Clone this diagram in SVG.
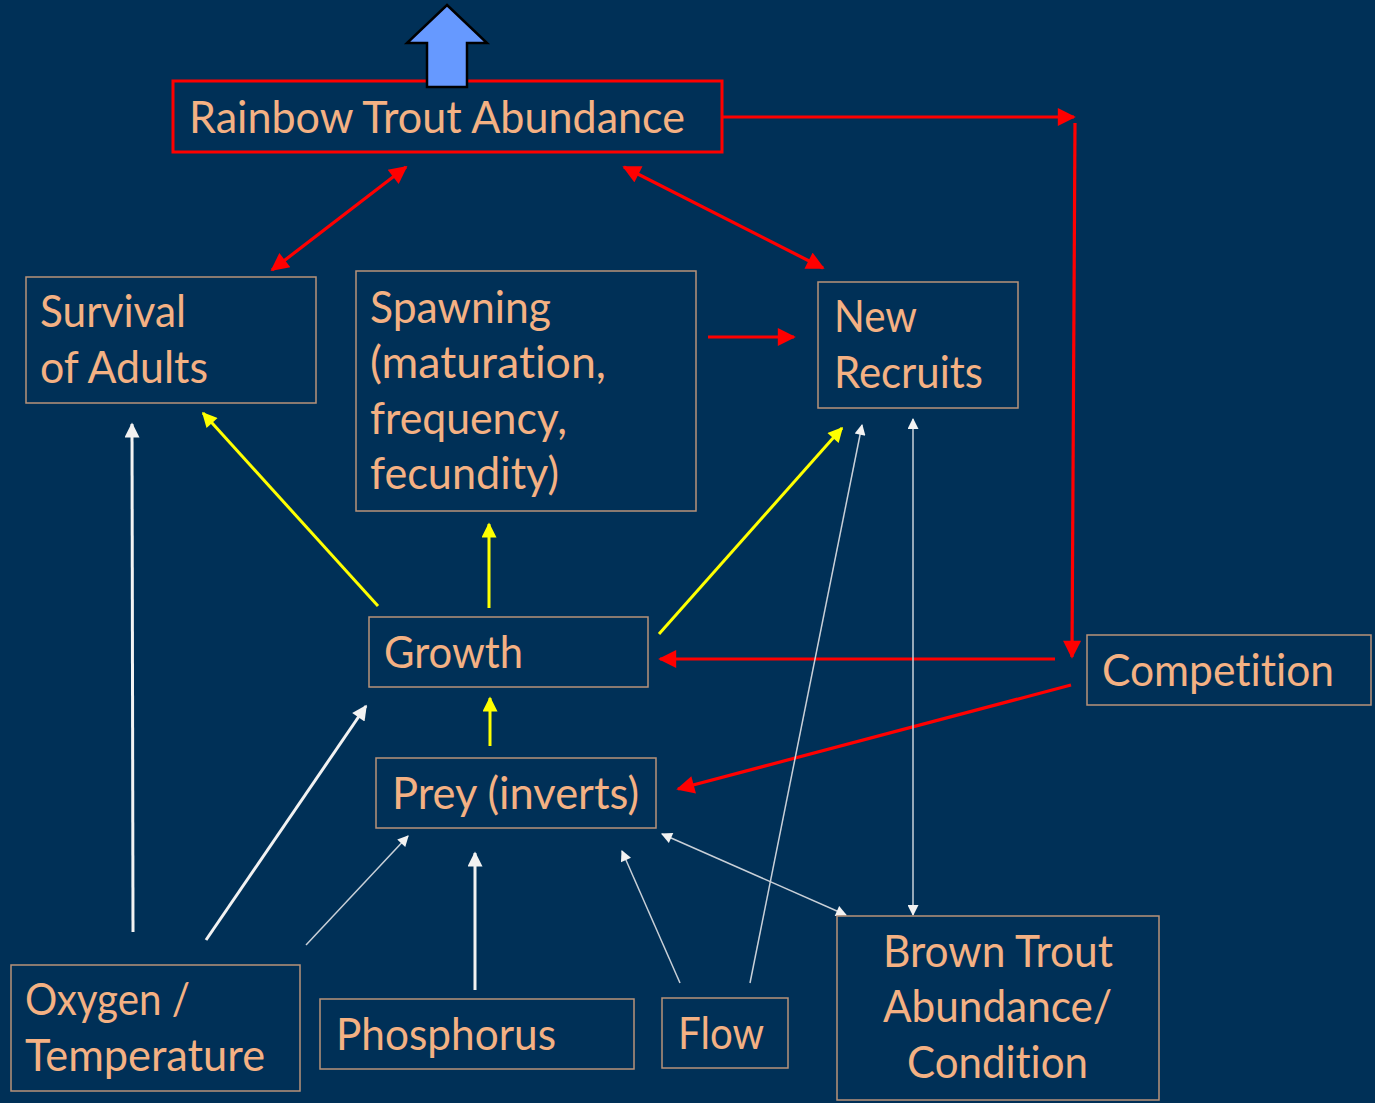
<svg xmlns="http://www.w3.org/2000/svg" width="1375" height="1103" viewBox="0 0 1375 1103">
<style>
.bg{fill:#003057}
.box{fill:none;stroke:#B8927A;stroke-width:1.5}
.boxr{fill:none;stroke:#FF0000;stroke-width:3}
.t{font-family:Lato,"Liberation Sans",sans-serif;font-size:44px;fill:#F4B183;font-variant-ligatures:none;font-feature-settings:"liga" 0}
.red{stroke:#FF0000;stroke-width:3.2;fill:none}
.yel{stroke:#FFFF00;stroke-width:3;fill:none}
.wht{stroke:#F2F2F2;stroke-width:3;fill:none}
.thin{stroke:#C9D0D8;stroke-width:1.5;fill:none}
</style>
<defs>
<marker id="ar" viewBox="0 0 10 10" refX="9" refY="5" markerUnits="userSpaceOnUse" markerWidth="20" markerHeight="18" orient="auto-start-reverse"><path d="M0,0 L10,5 L0,10 z" fill="#FF0000"/></marker>
<marker id="ay" viewBox="0 0 10 10" refX="9" refY="5" markerUnits="userSpaceOnUse" markerWidth="18" markerHeight="15" orient="auto-start-reverse"><path d="M0,0 L10,5 L0,10 z" fill="#FFFF00"/></marker>
<marker id="aw" viewBox="0 0 10 10" refX="9" refY="5" markerUnits="userSpaceOnUse" markerWidth="17" markerHeight="15" orient="auto-start-reverse"><path d="M0,0 L10,5 L0,10 z" fill="#F2F2F2"/></marker>
<marker id="at" viewBox="0 0 10 10" refX="9" refY="5" markerUnits="userSpaceOnUse" markerWidth="13" markerHeight="11" orient="auto-start-reverse"><path d="M0,0 L10,5 L0,10 z" fill="#F2F2F2"/></marker>
</defs>
<rect class="bg" x="0" y="0" width="1375" height="1103"/>

<g id="connectors">
<path class="red" d="M722,117 L1074,117" marker-end="url(#ar)"/>
<path class="red" d="M1075,123 L1072,657" marker-end="url(#ar)"/>
<path class="red" d="M272,270 L406,167" marker-start="url(#ar)" marker-end="url(#ar)"/>
<path class="red" d="M624,167 L823,268" marker-start="url(#ar)" marker-end="url(#ar)"/>
<path class="red" d="M708,337 L794,337" marker-end="url(#ar)"/>
<path class="red" d="M1055,659 L660,659" marker-end="url(#ar)"/>
<path class="red" d="M1071,685 L678,789" marker-end="url(#ar)"/>

<path class="yel" d="M378,606 L203,413" marker-end="url(#ay)"/>
<path class="yel" d="M489,608 L489,524" marker-end="url(#ay)"/>
<path class="yel" d="M659,634 L842,428" marker-end="url(#ay)"/>
<path class="yel" d="M490,746 L490,698" marker-end="url(#ay)"/>

<path class="wht" d="M133,932 L132,424" marker-end="url(#aw)"/>
<path class="wht" d="M206,940 L366,706" marker-end="url(#aw)"/>
<path class="thin" d="M306,945 L408,836" marker-end="url(#at)"/>
<path class="wht" d="M475,990 L475,853" marker-end="url(#aw)"/>
<path class="thin" d="M680,983 L622,851" marker-end="url(#at)"/>
<path class="thin" d="M846,915 L662,834" marker-start="url(#at)" marker-end="url(#at)"/>
<path class="thin" d="M750,983 L862,425" marker-end="url(#at)"/>
<path class="thin" d="M913,915 L913,419" marker-start="url(#at)" marker-end="url(#at)"/>
</g>

<g id="rainbow">
<rect class="boxr" x="173" y="81" width="549" height="71"/>
<text class="t" x="189" y="133" textLength="496" lengthAdjust="spacingAndGlyphs">Rainbow Trout Abundance</text>
</g>
<g id="uparrow">
<polygon points="447,5 487,43 467,43 467,87 427,87 427,43 407,43" fill="#6699FF" stroke="#000" stroke-width="2.5"/>
</g>
<g id="survival">
<rect class="box" x="26" y="277" width="290" height="126"/>
<text class="t" x="40" y="327" textLength="146" lengthAdjust="spacingAndGlyphs">Survival</text>
<text class="t" x="40" y="383" textLength="168" lengthAdjust="spacingAndGlyphs">of Adults</text>
</g>
<g id="spawning">
<rect class="box" x="356" y="271" width="340" height="240"/>
<text class="t" x="370" y="323" textLength="181" lengthAdjust="spacingAndGlyphs">Spawning</text>
<text class="t" x="370" y="378" textLength="236" lengthAdjust="spacingAndGlyphs">(maturation,</text>
<text class="t" x="370" y="434" textLength="197" lengthAdjust="spacingAndGlyphs">frequency,</text>
<text class="t" x="370" y="489" textLength="189" lengthAdjust="spacingAndGlyphs">fecundity)</text>
</g>
<g id="recruits">
<rect class="box" x="818" y="282" width="200" height="126"/>
<text class="t" x="834" y="332" textLength="83" lengthAdjust="spacingAndGlyphs">New</text>
<text class="t" x="834" y="388" textLength="149" lengthAdjust="spacingAndGlyphs">Recruits</text>
</g>
<g id="growth">
<rect class="box" x="369" y="617" width="279" height="70"/>
<text class="t" x="384" y="668" textLength="139" lengthAdjust="spacingAndGlyphs">Growth</text>
</g>
<g id="prey">
<rect class="box" x="376" y="758" width="280" height="70"/>
<text class="t" x="392" y="809" textLength="247" lengthAdjust="spacingAndGlyphs">Prey (inverts)</text>
</g>
<g id="competition">
<rect class="box" x="1087" y="635" width="284" height="70"/>
<text class="t" x="1102" y="686" textLength="232" lengthAdjust="spacingAndGlyphs">Competition</text>
</g>
<g id="oxygen">
<rect class="box" x="11" y="965" width="289" height="126"/>
<text class="t" x="25" y="1015" textLength="165" lengthAdjust="spacingAndGlyphs">Oxygen /</text>
<text class="t" x="25" y="1071" textLength="240" lengthAdjust="spacingAndGlyphs">Temperature</text>
</g>
<g id="phosphorus">
<rect class="box" x="320" y="999" width="314" height="70"/>
<text class="t" x="336" y="1050" textLength="220" lengthAdjust="spacingAndGlyphs">Phosphorus</text>
</g>
<g id="flow">
<rect class="box" x="662" y="998" width="126" height="70"/>
<text class="t" x="678" y="1049" textLength="86" lengthAdjust="spacingAndGlyphs">Flow</text>
</g>
<g id="browntrout">
<rect class="box" x="837" y="916" width="322" height="184"/>
<text class="t" x="883" y="967" textLength="230" lengthAdjust="spacingAndGlyphs">Brown Trout</text>
<text class="t" x="883" y="1022" textLength="229" lengthAdjust="spacingAndGlyphs">Abundance/</text>
<text class="t" x="907" y="1078" textLength="181" lengthAdjust="spacingAndGlyphs">Condition</text>
</g>
</svg>
